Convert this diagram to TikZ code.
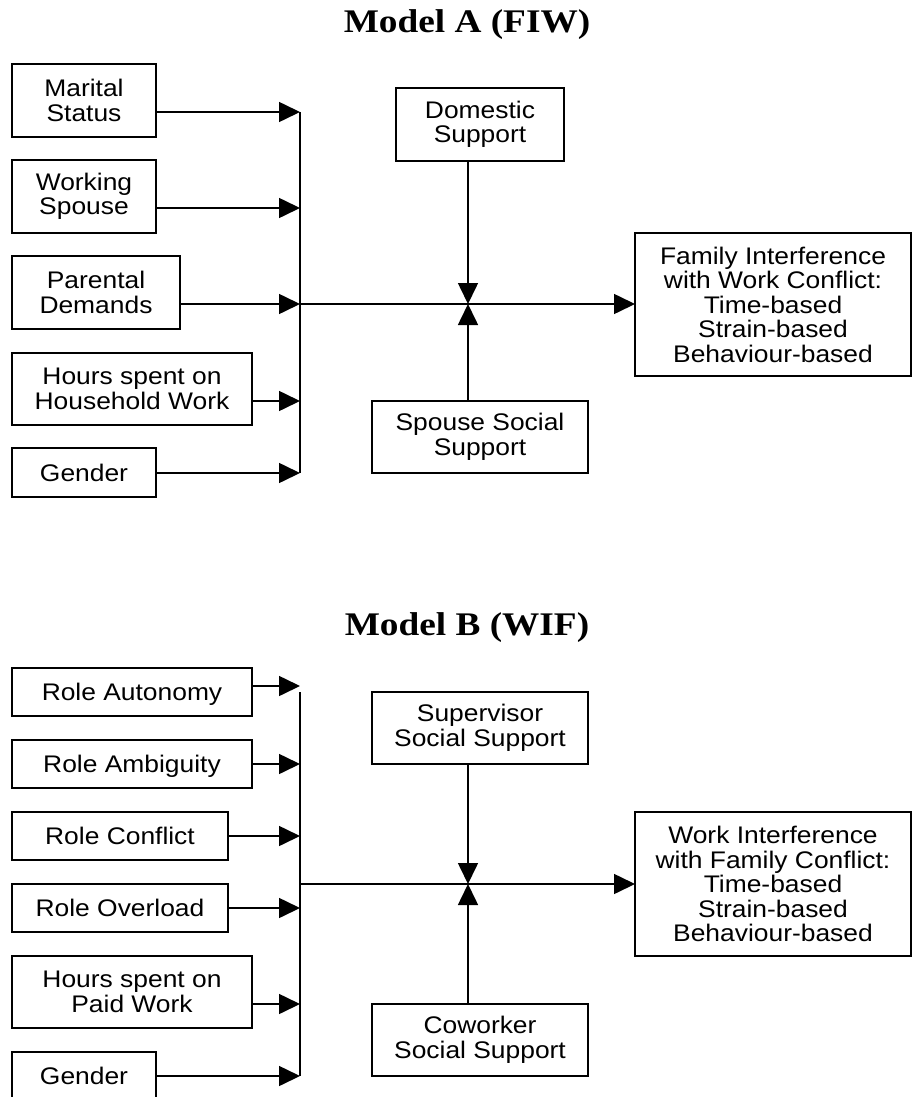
\documentclass[tikz,border=0pt]{standalone}
\usepackage{fontspec}
\setmainfont{Liberation Sans}[FakeStretch=1.1]
\newfontfamily\ttlfont{Liberation Serif}[FakeStretch=1.13]
\usetikzlibrary{arrows.meta}
\begin{document}
\begin{tikzpicture}[x=1pt,y=-1pt,
  box/.style={draw, line width=1.6pt, inner sep=0pt, outer sep=0pt, align=center,
    font=\fontsize{24}{24.5}\selectfont},
  one/.style={text height=17pt, text depth=0pt},
  arr/.style={line width=1.6pt, -{Triangle[length=21pt,width=20pt]}},
  ln/.style={line width=1.8pt},
  ttl/.style={font=\ttlfont\bfseries\fontsize{33}{36}\selectfont, inner sep=0pt}]
\useasboundingbox (0,0) rectangle (913,1097);
\fill[white] (0,0) rectangle (913,1097);

% ---------------- Model A ----------------
\node[ttl, anchor=base] (tA) at (467,33) {Model A (FIW)};

\node[box, minimum width=144pt, minimum height=73pt] (m1) at (84,100.5) {Marital\\Status};
\node[box, minimum width=144pt, minimum height=73pt] (m2) at (84,196.5) {Working\\Spouse};
\node[box, minimum width=168pt, minimum height=73pt] (m3) at (96,292.5) {Parental\\Demands};
\node[box, minimum width=240pt, minimum height=72pt] (m4) at (132,389) {Hours spent on\\Household Work};
\node[box, one, minimum width=144pt, minimum height=49pt] (m5) at (84,472.5) {Gender};
\node[box, minimum width=168pt, minimum height=73pt] (dom) at (480,124.5) {Domestic\\Support};
\node[box, minimum width=216pt, minimum height=72pt] (sps) at (480,437) {Spouse Social\\Support};
\node[box, minimum width=276pt, minimum height=143pt] (outA) at (773,304.5)
  {Family Interference\\with Work Conflict:\\Time-based\\Strain-based\\Behaviour-based};

\coordinate (a1) at (300,112);
\coordinate (a2) at (300,208);
\coordinate (a3) at (300,304);
\coordinate (a4) at (300,401);
\coordinate (a5) at (300,473);
\coordinate (jA) at (468,304);

\draw[ln] (a1) -- (a5);
\draw[arr] (m1.east |- a1) -- (a1);
\draw[arr] (m2.east |- a2) -- (a2);
\draw[arr] (m3.east |- a3) -- (a3);
\draw[arr] (m4.east |- a4) -- (a4);
\draw[arr] (m5.east |- a5) -- (a5);
\draw[arr] (a3) -- (outA.west |- a3);
\draw[arr] (dom.south -| jA) -- (jA);
\draw[arr] (sps.north -| jA) -- (jA);

% ---------------- Model B ----------------
\node[ttl, anchor=base] (tB) at (467,635) {Model B (WIF)};

\node[box, one, minimum width=240pt, minimum height=48pt] (r1) at (132,692) {Role Autonomy};
\node[box, one, minimum width=240pt, minimum height=48pt] (r2) at (132,764) {Role Ambiguity};
\node[box, one, minimum width=216pt, minimum height=48pt] (r3) at (120,836) {Role Conflict};
\node[box, one, minimum width=216pt, minimum height=48pt] (r4) at (120,908) {Role Overload};
\node[box, minimum width=240pt, minimum height=72pt] (r5) at (132,992) {Hours spent on\\Paid Work};
\node[box, one, minimum width=144pt, minimum height=48pt] (r6) at (84,1076) {Gender};
\node[box, minimum width=216pt, minimum height=72pt] (sup) at (480,728) {Supervisor\\Social Support};
\node[box, minimum width=216pt, minimum height=72pt] (cow) at (480,1040) {Coworker\\Social Support};
\node[box, minimum width=276pt, minimum height=144pt] (outB) at (773,884)
  {Work Interference\\with Family Conflict:\\Time-based\\Strain-based\\Behaviour-based};

\coordinate (b0) at (300,692);
\coordinate (b1) at (300,686);
\coordinate (b2) at (300,764);
\coordinate (b3) at (300,836);
\coordinate (b4) at (300,908);
\coordinate (b5) at (300,1004);
\coordinate (b6) at (300,1076);
\coordinate (bm) at (300,884);
\coordinate (jB) at (468,884);

\draw[ln] (b0) -- (b6);
\draw[arr] (r1.east |- b1) -- (b1);
\draw[arr] (r2.east |- b2) -- (b2);
\draw[arr] (r3.east |- b3) -- (b3);
\draw[arr] (r4.east |- b4) -- (b4);
\draw[arr] (r5.east |- b5) -- (b5);
\draw[arr] (r6.east |- b6) -- (b6);
\draw[arr] (bm) -- (outB.west |- bm);
\draw[arr] (sup.south -| jB) -- (jB);
\draw[arr] (cow.north -| jB) -- (jB);
\end{tikzpicture}
\end{document}
